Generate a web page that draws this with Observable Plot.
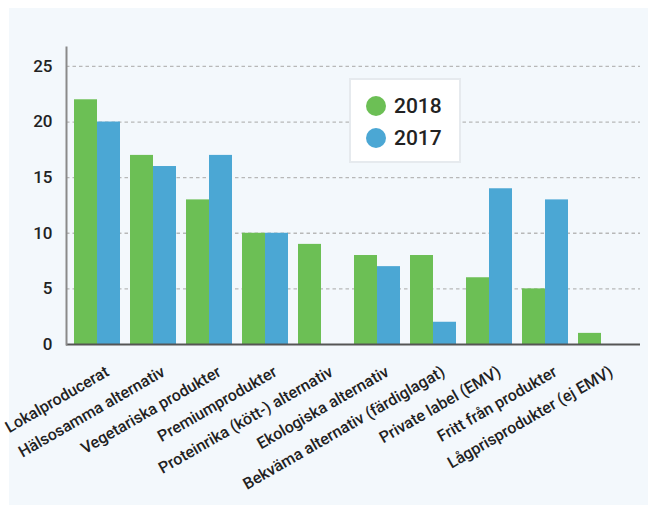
<!DOCTYPE html>
<html><head><meta charset="utf-8">
<script src="https://cdn.jsdelivr.net/npm/d3@7"></script>
<script src="https://cdn.jsdelivr.net/npm/@observablehq/plot@0.6"></script>
<style>
html,body{margin:0;padding:0;background:#fff;}
#wrap{position:relative;width:648px;height:506px;overflow:hidden;}
#panel{position:absolute;left:9px;top:8px;right:0;bottom:1px;background:#f3f8fc;}
#chart{position:absolute;left:0;top:0;}
#legend{position:absolute;left:349px;top:78px;width:112px;height:85px;box-sizing:border-box;background:#fff;border:2px solid #e6eaee;font-family:Roboto,sans-serif;font-weight:500;font-size:21px;color:#222;}
.dot{position:absolute;width:20px;height:20px;border-radius:50%;left:15px;}
.lab{position:absolute;left:43px;line-height:24px;}
</style>
</head><body>
<div id="wrap">
  <div id="panel"></div>
  <div id="chart"></div>
  <div id="legend"></div>
</div>
<script>
const categories = ["Lokalproducerat","Hälsosamma alternativ","Vegetariska produkter","Premiumprodukter","Proteinrika (kött-) alternativ","Ekologiska alternativ","Bekväma alternativ (färdiglagat)","Private label (EMV)","Fritt från produkter","Lågprisprodukter (ej EMV)"];
const values2018 = [22,17,13,10,9,8,8,6,5,1];
const values2017 = [20,16,17,10,null,7,2,14,13,null];
const yTicks = [0,5,10,15,20,25];
const seriesNames = ["2018","2017"];
const seriesColors = ["#6cbf55","#4ba7d4"];

const rows2018 = categories.map((c,i)=>({cat:c, v:values2018[i]})).filter(d=>d.v!=null);
const rows2017 = categories.map((c,i)=>({cat:c, v:values2017[i]})).filter(d=>d.v!=null);

const plot = Plot.plot({
  width: 648, height: 506,
  marginLeft: 66, marginRight: 8, marginTop: 47, marginBottom: 162,
  style: {background: "transparent", fontFamily: "Roboto, sans-serif", color: "#222"},
  x: {domain: categories, paddingInner: 0.179, paddingOuter: 0.2145, align: 0.333, label: null, axis: null},
  y: {domain: [0, 26.7], label: null, axis: null},
  marks: [
    Plot.ruleY(yTicks.filter(d=>d>0), {stroke:"#b8b8b8", strokeDasharray:"3.5,3", strokeWidth:1.3}),
    Plot.barY(rows2018, {x:"cat", y:"v", fill:seriesColors[0], insetRight:23}),
    Plot.barY(rows2017, {x:"cat", y:"v", fill:seriesColors[1], insetLeft:23}),
    Plot.ruleY([0], {stroke:"#555", strokeWidth:2}),
    Plot.frame({anchor:"left", stroke:"#8a8a8a", strokeWidth:2}),
    Plot.axisY({ticks: yTicks, tickSize:0, tickPadding:14, fontSize:17, fontWeight:500, label:null}),
    Plot.axisX({tickSize:0, tickRotate:-30, tickPadding:26, dx:10, fontSize:16, fontWeight:500, label:null})
  ]
});
document.getElementById("chart").appendChild(plot);

const legend = document.getElementById("legend");
const centers = [26, 58];
seriesNames.forEach((n,i)=>{
  const dot = document.createElement("div");
  dot.className = "dot";
  dot.style.top = (centers[i]-10)+"px";
  dot.style.background = seriesColors[i];
  legend.appendChild(dot);
  const lab = document.createElement("div");
  lab.className = "lab";
  lab.style.top = (centers[i]-12)+"px";
  lab.textContent = n;
  legend.appendChild(lab);
});
</script>
</body></html>
